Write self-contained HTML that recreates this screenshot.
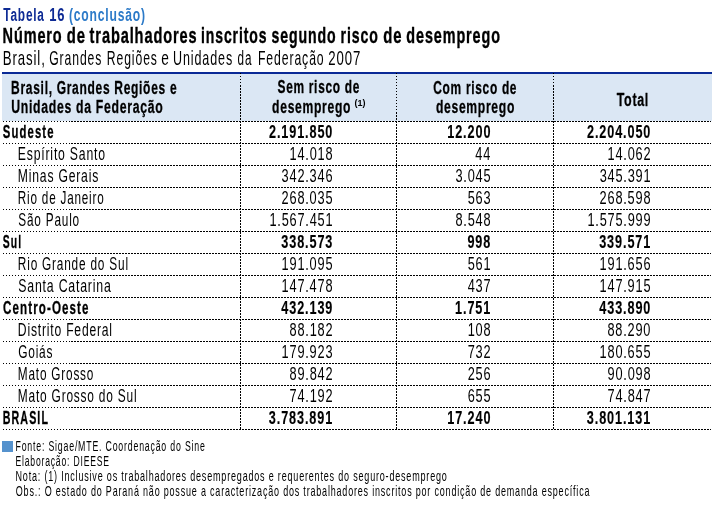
<!DOCTYPE html>
<html lang="pt"><head><meta charset="utf-8"><title>Tabela 16</title>
<style>
html,body{margin:0;padding:0;background:#fff;}
body{width:712px;height:507px;overflow:hidden;}
svg{display:block;}
text{font-family:"Liberation Sans",sans-serif;}
.tab{font-size:18.3px;font-weight:bold;fill:#0d2a94;}
.con{font-size:18.3px;font-weight:bold;fill:#2c7ac8;}
.tit{font-size:22.6px;font-weight:bold;fill:#000;stroke:#000;stroke-width:0.4px;stroke-linejoin:round;}
.sub{font-size:19.8px;font-weight:normal;fill:#000;}
.hdr{font-size:18.5px;font-weight:bold;fill:#000;stroke:#000;stroke-width:0.3px;stroke-linejoin:round;}
.sup{font-size:9.0px;font-weight:bold;fill:#000;}
.dr{font-size:18.5px;font-weight:normal;fill:#000;}
.db{font-size:18.5px;font-weight:bold;fill:#000;stroke:#000;stroke-width:0.3px;stroke-linejoin:round;}
.nr{font-size:18.5px;font-weight:normal;fill:#000;}
.nb{font-size:18.5px;font-weight:bold;fill:#000;stroke:#000;stroke-width:0.15px;stroke-linejoin:round;}
.ft{font-size:15.2px;font-weight:normal;fill:#000;}</style></head><body>
<svg width="712" height="507" viewBox="0 0 712 507">
<defs>
<pattern id="h0" x="0" y="0" width="3" height="1" patternUnits="userSpaceOnUse"><rect x="0" y="0" width="1" height="1" fill="#000"/></pattern>
<pattern id="h2" x="0" y="0" width="3" height="1" patternUnits="userSpaceOnUse"><rect x="2" y="0" width="1" height="1" fill="#000"/></pattern>
<pattern id="v1" x="0" y="0" width="1" height="3" patternUnits="userSpaceOnUse"><rect x="0" y="1" width="1" height="1" fill="#000"/></pattern>
<pattern id="v2" x="0" y="0" width="1" height="3" patternUnits="userSpaceOnUse"><rect x="0" y="2" width="1" height="1" fill="#000"/></pattern>
</defs>
<rect x="2" y="74" width="710" height="47" fill="#dbe7f4"/>
<rect x="2" y="72" width="710" height="2" fill="#0a2a96"/>
<rect x="3" y="121" width="708" height="1" fill="url(#h0)"/><rect x="71" y="121" width="640" height="1" fill="url(#h2)"/>
<rect x="3" y="143" width="708" height="1" fill="url(#h0)"/><rect x="71" y="143" width="640" height="1" fill="url(#h2)"/>
<rect x="3" y="165" width="708" height="1" fill="url(#h0)"/><rect x="71" y="165" width="640" height="1" fill="url(#h2)"/>
<rect x="3" y="187" width="708" height="1" fill="url(#h0)"/><rect x="71" y="187" width="640" height="1" fill="url(#h2)"/>
<rect x="3" y="209" width="708" height="1" fill="url(#h0)"/><rect x="71" y="209" width="640" height="1" fill="url(#h2)"/>
<rect x="3" y="231" width="708" height="1" fill="url(#h0)"/><rect x="71" y="231" width="640" height="1" fill="url(#h2)"/>
<rect x="3" y="253" width="708" height="1" fill="url(#h0)"/><rect x="71" y="253" width="640" height="1" fill="url(#h2)"/>
<rect x="3" y="275" width="708" height="1" fill="url(#h0)"/><rect x="71" y="275" width="640" height="1" fill="url(#h2)"/>
<rect x="3" y="297" width="708" height="1" fill="url(#h0)"/><rect x="71" y="297" width="640" height="1" fill="url(#h2)"/>
<rect x="3" y="319" width="708" height="1" fill="url(#h0)"/><rect x="71" y="319" width="640" height="1" fill="url(#h2)"/>
<rect x="3" y="341" width="708" height="1" fill="url(#h0)"/><rect x="71" y="341" width="640" height="1" fill="url(#h2)"/>
<rect x="3" y="363" width="708" height="1" fill="url(#h0)"/><rect x="71" y="363" width="640" height="1" fill="url(#h2)"/>
<rect x="3" y="385" width="708" height="1" fill="url(#h0)"/><rect x="71" y="385" width="640" height="1" fill="url(#h2)"/>
<rect x="3" y="407" width="708" height="1" fill="url(#h0)"/><rect x="71" y="407" width="640" height="1" fill="url(#h2)"/>
<rect x="3" y="429" width="708" height="1" fill="url(#h0)"/><rect x="71" y="429" width="640" height="1" fill="url(#h2)"/>
<rect x="240" y="73" width="1" height="357" fill="url(#v1)"/><rect x="240" y="86" width="1" height="344" fill="url(#v2)"/>
<rect x="396" y="73" width="1" height="357" fill="url(#v1)"/><rect x="396" y="113" width="1" height="317" fill="url(#v2)"/>
<rect x="553" y="73" width="1" height="357" fill="url(#v1)"/><rect x="553" y="86" width="1" height="344" fill="url(#v2)"/>
<rect x="2" y="441" width="11" height="11" fill="#5592cd"/>
<text class="tab" style="letter-spacing:1.234px" transform="translate(3.28 20.80) scale(0.6485 1)">Tabela</text>
<text class="tab" style="letter-spacing:1.127px" transform="translate(49.22 20.80) scale(0.7098 1)">16</text>
<text class="con" style="letter-spacing:1.204px" transform="translate(68.95 20.80) scale(0.6644 1)">(conclusão)</text>
<text class="tit" style="letter-spacing:1.406px" transform="translate(2.56 42.60) scale(0.6401 1)">Número</text>
<text class="tit" style="letter-spacing:1.367px" transform="translate(66.71 42.60) scale(0.6582 1)">de</text>
<text class="tit" style="letter-spacing:1.398px" transform="translate(89.60 42.60) scale(0.6438 1)">trabalhadores</text>
<text class="tit" style="letter-spacing:1.451px" transform="translate(200.99 42.60) scale(0.6202 1)">inscritos</text>
<text class="tit" style="letter-spacing:1.441px" transform="translate(271.41 42.60) scale(0.6244 1)">segundo</text>
<text class="tit" style="letter-spacing:1.442px" transform="translate(340.58 42.60) scale(0.6243 1)">risco</text>
<text class="tit" style="letter-spacing:1.367px" transform="translate(383.31 42.60) scale(0.6582 1)">de</text>
<text class="tit" style="letter-spacing:1.413px" transform="translate(406.32 42.60) scale(0.6369 1)">desemprego</text>
<text class="sub" style="letter-spacing:1.348px" transform="translate(2.74 64.70) scale(0.6675 1)">Brasil,</text>
<text class="sub" style="letter-spacing:1.459px" transform="translate(49.19 64.70) scale(0.6168 1)">Grandes</text>
<text class="sub" style="letter-spacing:1.463px" transform="translate(106.83 64.70) scale(0.6153 1)">Regiões</text>
<text class="sub" style="letter-spacing:1.302px" transform="translate(161.15 64.70) scale(0.6911 1)">e</text>
<text class="sub" style="letter-spacing:1.421px" transform="translate(172.96 64.70) scale(0.6333 1)">Unidades</text>
<text class="sub" style="letter-spacing:1.522px" transform="translate(237.53 64.70) scale(0.5913 1)">da</text>
<text class="sub" style="letter-spacing:1.454px" transform="translate(257.92 64.70) scale(0.6189 1)">Federação</text>
<text class="sub" style="letter-spacing:1.350px" transform="translate(328.24 64.70) scale(0.6668 1)">2007</text>
<text class="hdr" style="letter-spacing:1.078px" transform="translate(11.12 93.60) scale(0.6492 1)">Brasil, Grandes Regiões e</text>
<text class="hdr" style="letter-spacing:1.056px" transform="translate(11.16 112.90) scale(0.6629 1)">Unidades da Federação</text>
<text class="hdr" style="letter-spacing:1.085px" transform="translate(277.50 93.40) scale(0.6449 1)">Sem risco de</text>
<text class="hdr" style="letter-spacing:1.068px" transform="translate(272.11 112.80) scale(0.6556 1)">desemprego</text>
<text class="sup" transform="translate(354.59 106.00) scale(1.0037 1)">(1)</text>
<text class="hdr" style="letter-spacing:1.086px" transform="translate(433.32 93.60) scale(0.6446 1)">Com risco de</text>
<text class="hdr" style="letter-spacing:1.066px" transform="translate(435.91 112.80) scale(0.6565 1)">desemprego</text>
<text class="hdr" style="letter-spacing:1.038px" transform="translate(616.68 106.00) scale(0.6743 1)">Total</text>
<text class="db" style="letter-spacing:1.798px" transform="translate(2.82 137.50) scale(0.6119 1)">Sudeste</text>
<text class="nb" style="letter-spacing:1.316px" transform="translate(268.95 137.50) scale(0.6841 1)">2.191.850</text>
<text class="nb" style="letter-spacing:1.316px" transform="translate(447.25 137.50) scale(0.6841 1)">12.200</text>
<text class="nb" style="letter-spacing:1.316px" transform="translate(586.95 137.50) scale(0.6841 1)">2.204.050</text>
<text class="dr" style="letter-spacing:1.209px" transform="translate(17.82 159.50) scale(0.6616 1)">Espírito Santo</text>
<text class="nr" style="letter-spacing:1.160px" transform="translate(289.51 159.50) scale(0.6895 1)">14.018</text>
<text class="nr" style="letter-spacing:1.160px" transform="translate(475.35 159.50) scale(0.6895 1)">44</text>
<text class="nr" style="letter-spacing:1.160px" transform="translate(607.58 159.50) scale(0.6895 1)">14.062</text>
<text class="dr" style="letter-spacing:1.216px" transform="translate(17.83 181.50) scale(0.6579 1)">Minas Gerais</text>
<text class="nr" style="letter-spacing:1.160px" transform="translate(281.62 181.50) scale(0.6895 1)">342.346</text>
<text class="nr" style="letter-spacing:1.160px" transform="translate(455.41 181.50) scale(0.6895 1)">3.045</text>
<text class="nr" style="letter-spacing:1.160px" transform="translate(599.68 181.50) scale(0.6895 1)">345.391</text>
<text class="dr" style="letter-spacing:1.264px" transform="translate(17.86 203.50) scale(0.6331 1)">Rio de Janeiro</text>
<text class="nr" style="letter-spacing:1.160px" transform="translate(281.62 203.50) scale(0.6895 1)">268.035</text>
<text class="nr" style="letter-spacing:1.160px" transform="translate(467.64 203.50) scale(0.6895 1)">563</text>
<text class="nr" style="letter-spacing:1.160px" transform="translate(599.62 203.50) scale(0.6895 1)">268.598</text>
<text class="dr" style="letter-spacing:1.253px" transform="translate(18.27 225.50) scale(0.6386 1)">São Paulo</text>
<text class="nr" style="letter-spacing:1.160px" transform="translate(269.44 225.50) scale(0.6895 1)">1.567.451</text>
<text class="nr" style="letter-spacing:1.160px" transform="translate(455.41 225.50) scale(0.6895 1)">8.548</text>
<text class="nr" style="letter-spacing:1.160px" transform="translate(587.44 225.50) scale(0.6895 1)">1.575.999</text>
<text class="db" style="letter-spacing:1.958px" transform="translate(2.84 247.50) scale(0.5617 1)">Sul</text>
<text class="nb" style="letter-spacing:1.316px" transform="translate(281.31 247.50) scale(0.6841 1)">338.573</text>
<text class="nb" style="letter-spacing:1.316px" transform="translate(467.42 247.50) scale(0.6841 1)">998</text>
<text class="nb" style="letter-spacing:1.316px" transform="translate(599.18 247.50) scale(0.6841 1)">339.571</text>
<text class="dr" style="letter-spacing:1.249px" transform="translate(17.85 269.50) scale(0.6405 1)">Rio Grande do Sul</text>
<text class="nr" style="letter-spacing:1.160px" transform="translate(281.62 269.50) scale(0.6895 1)">191.095</text>
<text class="nr" style="letter-spacing:1.160px" transform="translate(467.71 269.50) scale(0.6895 1)">561</text>
<text class="nr" style="letter-spacing:1.160px" transform="translate(599.62 269.50) scale(0.6895 1)">191.656</text>
<text class="dr" style="letter-spacing:1.201px" transform="translate(18.25 291.50) scale(0.6661 1)">Santa Catarina</text>
<text class="nr" style="letter-spacing:1.160px" transform="translate(281.62 291.50) scale(0.6895 1)">147.478</text>
<text class="nr" style="letter-spacing:1.160px" transform="translate(467.71 291.50) scale(0.6895 1)">437</text>
<text class="nr" style="letter-spacing:1.160px" transform="translate(599.62 291.50) scale(0.6895 1)">147.915</text>
<text class="db" style="letter-spacing:1.756px" transform="translate(3.04 313.50) scale(0.6266 1)">Centro-Oeste</text>
<text class="nb" style="letter-spacing:1.316px" transform="translate(281.31 313.50) scale(0.6841 1)">432.139</text>
<text class="nb" style="letter-spacing:1.316px" transform="translate(455.06 313.50) scale(0.6841 1)">1.751</text>
<text class="nb" style="letter-spacing:1.316px" transform="translate(599.31 313.50) scale(0.6841 1)">433.890</text>
<text class="dr" style="letter-spacing:1.219px" transform="translate(17.83 335.50) scale(0.6564 1)">Distrito Federal</text>
<text class="nr" style="letter-spacing:1.160px" transform="translate(289.58 335.50) scale(0.6895 1)">88.182</text>
<text class="nr" style="letter-spacing:1.160px" transform="translate(467.64 335.50) scale(0.6895 1)">108</text>
<text class="nr" style="letter-spacing:1.160px" transform="translate(607.45 335.50) scale(0.6895 1)">88.290</text>
<text class="dr" style="letter-spacing:1.243px" transform="translate(18.20 357.50) scale(0.6438 1)">Goiás</text>
<text class="nr" style="letter-spacing:1.160px" transform="translate(281.62 357.50) scale(0.6895 1)">179.923</text>
<text class="nr" style="letter-spacing:1.160px" transform="translate(467.71 357.50) scale(0.6895 1)">732</text>
<text class="nr" style="letter-spacing:1.160px" transform="translate(599.62 357.50) scale(0.6895 1)">180.655</text>
<text class="dr" style="letter-spacing:1.255px" transform="translate(17.86 379.50) scale(0.6377 1)">Mato Grosso</text>
<text class="nr" style="letter-spacing:1.160px" transform="translate(289.58 379.50) scale(0.6895 1)">89.842</text>
<text class="nr" style="letter-spacing:1.160px" transform="translate(467.64 379.50) scale(0.6895 1)">256</text>
<text class="nr" style="letter-spacing:1.160px" transform="translate(607.51 379.50) scale(0.6895 1)">90.098</text>
<text class="dr" style="letter-spacing:1.243px" transform="translate(17.85 401.50) scale(0.6434 1)">Mato Grosso do Sul</text>
<text class="nr" style="letter-spacing:1.160px" transform="translate(289.58 401.50) scale(0.6895 1)">74.192</text>
<text class="nr" style="letter-spacing:1.160px" transform="translate(467.64 401.50) scale(0.6895 1)">655</text>
<text class="nr" style="letter-spacing:1.160px" transform="translate(607.58 401.50) scale(0.6895 1)">74.847</text>
<text class="db" style="letter-spacing:1.905px" transform="translate(2.71 423.50) scale(0.5776 1)">BRASIL</text>
<text class="nb" style="letter-spacing:1.316px" transform="translate(268.83 423.50) scale(0.6841 1)">3.783.891</text>
<text class="nb" style="letter-spacing:1.316px" transform="translate(447.25 423.50) scale(0.6841 1)">17.240</text>
<text class="nb" style="letter-spacing:1.316px" transform="translate(586.83 423.50) scale(0.6841 1)">3.801.131</text>
<text class="ft" style="letter-spacing:1.384px" transform="translate(15.50 450.50) scale(0.5780 1)">Fonte: Sigae/MTE. Coordenação do Sine</text>
<text class="ft" style="letter-spacing:1.412px" transform="translate(15.51 465.50) scale(0.5666 1)">Elaboração: DIEESE</text>
<text class="ft" style="letter-spacing:1.345px" transform="translate(15.48 480.50) scale(0.5947 1)">Nota: (1) Inclusive os trabalhadores desempregados e requerentes do seguro-desemprego</text>
<text class="ft" style="letter-spacing:1.348px" transform="translate(15.79 495.50) scale(0.5936 1)">Obs.: O estado do Paraná não possue a caracterização dos trabalhadores inscritos por condição de demanda específica</text>
</svg>
</body></html>
